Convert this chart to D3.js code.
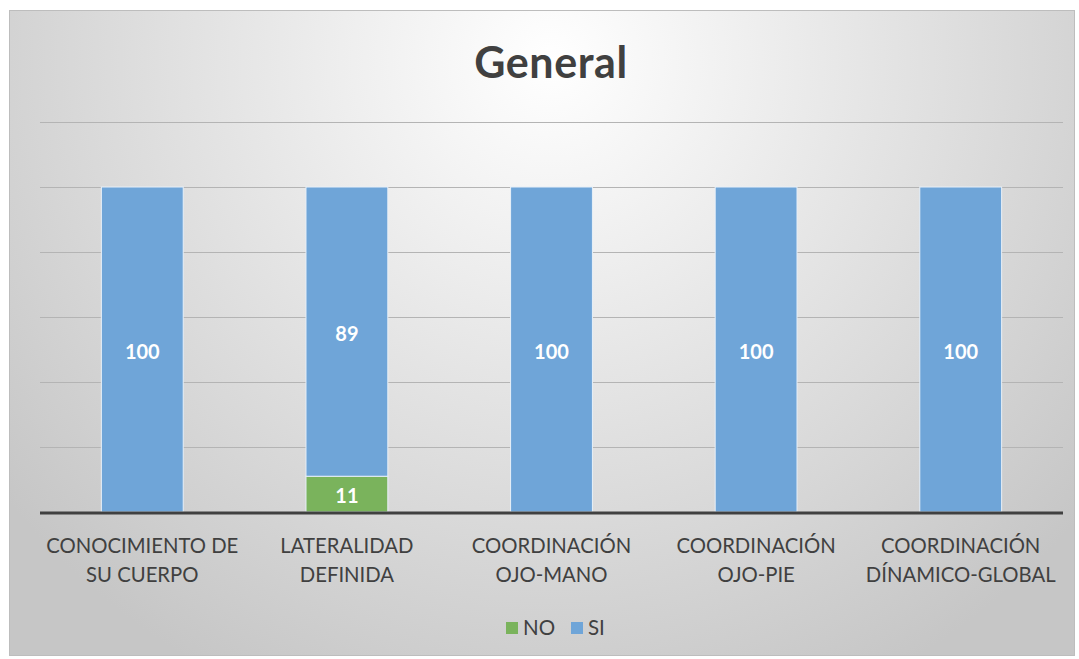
<!DOCTYPE html>
<html>
<head>
<meta charset="utf-8">
<script src="https://cdn.jsdelivr.net/npm/d3@7"></script>
<style>
  body { margin: 0; background: #fff; }
  svg { display: block; }
</style>
</head>
<body>
<script>
const width = 1079;
const height = 659;

// data
const categories = [
  ["CONOCIMIENTO DE", "SU CUERPO"],
  ["LATERALIDAD", "DEFINIDA"],
  ["COORDINACIÓN", "OJO-MANO"],
  ["COORDINACIÓN", "OJO-PIE"],
  ["COORDINACIÓN", "DÍNAMICO-GLOBAL"]
];
const noValues = [0, 11, 0, 0, 0];
const siValues = [100, 89, 100, 100, 100];
const yTicks = [0, 20, 40, 60, 80, 100, 120];
const seriesNames = ["NO", "SI"];
const colors = { NO: "#7ab35c", SI: "#6fa5d8" };

const plot = { left: 40, right: 1063, top: 122, bottom: 512 };

const svg = d3.select("body").append("svg")
  .attr("width", width)
  .attr("height", height);

// background gradient like the office chart area
const defs = svg.append("defs");
const grad = defs.append("radialGradient")
  .attr("id", "bg")
  .attr("gradientUnits", "userSpaceOnUse")
  .attr("cx", 551).attr("cy", 60).attr("r", 700);
grad.append("stop").attr("offset", "0%").attr("stop-color", "#ffffff");
grad.append("stop").attr("offset", "30%").attr("stop-color", "#eeeeee");
grad.append("stop").attr("offset", "100%").attr("stop-color", "#c6c6c6");

svg.append("rect")
  .attr("x", 9.5).attr("y", 10.5)
  .attr("width", 1065).attr("height", 645)
  .attr("fill", "url(#bg)")
  .attr("stroke", "#bdbdbd")
  .attr("stroke-width", 1);

const x = d3.scaleBand()
  .domain(d3.range(categories.length))
  .range([plot.left, plot.right])
  .paddingInner(0.6)
  .paddingOuter(0.3);

const y = d3.scaleLinear()
  .domain([0, 120])
  .range([plot.bottom, plot.top]);

// gridlines
svg.append("g")
  .selectAll("line")
  .data(yTicks.filter(d => d > 0))
  .enter().append("line")
  .attr("x1", plot.left).attr("x2", plot.right)
  .attr("y1", d => Math.round(y(d)) + 0.5)
  .attr("y2", d => Math.round(y(d)) + 0.5)
  .attr("stroke", "#b4b4b4")
  .attr("stroke-width", 1);

// stacked data
const rows = categories.map((c, i) => ({ i, NO: noValues[i], SI: siValues[i] }));
const stack = d3.stack().keys(seriesNames)(rows);

const layers = svg.append("g")
  .selectAll("g")
  .data(stack)
  .enter().append("g")
  .attr("fill", d => colors[d.key]);

layers.selectAll("rect")
  .data(d => d.filter(s => s[1] - s[0] > 0))
  .enter().append("rect")
  .attr("x", d => x(d.data.i))
  .attr("y", d => y(d[1]))
  .attr("width", x.bandwidth())
  .attr("height", d => y(d[0]) - y(d[1]))
  .attr("stroke", "#e8f0f8")
  .attr("stroke-width", 1);

// value labels
layers.each(function(layer) {
  d3.select(this).selectAll("text")
    .data(layer.filter(s => s[1] - s[0] > 0))
    .enter().append("text")
    .attr("x", d => x(d.data.i) + x.bandwidth() / 2)
    .attr("y", d => (y(d[0]) + y(d[1])) / 2 + 2)
    .attr("dy", "0.36em")
    .attr("text-anchor", "middle")
    .attr("fill", "#ffffff")
    .style("font-family", "Lato, 'Open Sans', sans-serif")
    .style("font-weight", "bold")
    .style("font-size", "20px")
    .text(d => d[1] - d[0]);
});

// baseline
svg.append("line")
  .attr("x1", plot.left).attr("x2", plot.right)
  .attr("y1", y(0) + 1).attr("y2", y(0) + 1)
  .attr("stroke", "#404040")
  .attr("stroke-width", 3);

// category labels
const xLabels = svg.append("g")
  .selectAll("text")
  .data(categories)
  .enter().append("text")
  .attr("x", (d, i) => x(i) + x.bandwidth() / 2)
  .attr("y", 553)
  .attr("text-anchor", "middle")
  .attr("fill", "#404040")
  .style("font-family", "Lato, 'Open Sans', sans-serif")
  .style("font-size", "20.3px");

xLabels.selectAll("tspan")
  .data(d => d)
  .enter().append("tspan")
  .attr("x", function() { return d3.select(this.parentNode).attr("x"); })
  .attr("dy", (d, j) => j === 0 ? 0 : 29)
  .text(d => d);

// title
svg.append("text")
  .attr("x", 551)
  .attr("y", 78)
  .attr("text-anchor", "middle")
  .attr("fill", "#404040")
  .style("font-family", "Lato, 'Open Sans', sans-serif")
  .style("font-weight", "bold")
  .style("font-size", "43px")
  .style("letter-spacing", "0.6px")
  .text("General");

// legend
const legend = svg.append("g").attr("transform", "translate(506, 628)");
const legendPos = [0, 65];
seriesNames.forEach((name, i) => {
  const g = legend.append("g").attr("transform", `translate(${legendPos[i]}, 0)`);
  g.append("rect")
    .attr("x", 0).attr("y", -6)
    .attr("width", 12).attr("height", 12)
    .attr("fill", colors[name]);
  g.append("text")
    .attr("x", 17).attr("y", 0)
    .attr("dy", "0.36em")
    .attr("fill", "#404040")
    .style("font-family", "Lato, 'Open Sans', sans-serif")
    .style("font-size", "20.5px")
    .text(name);
});
</script>
</body>
</html>
